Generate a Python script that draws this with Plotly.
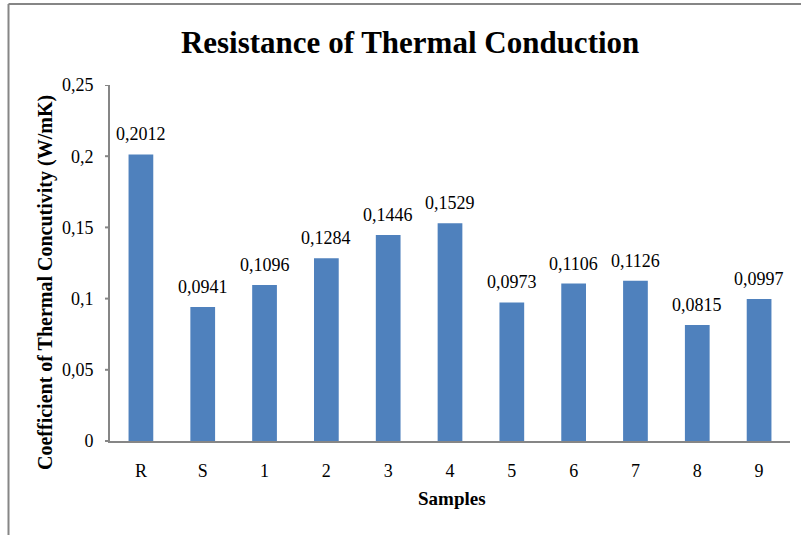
import plotly.graph_objects as go

samples = ["R", "S", "1", "2", "3", "4", "5", "6", "7", "8", "9"]
conductivity = [0.2012, 0.0941, 0.1096, 0.1284, 0.1446, 0.1529,
                0.0973, 0.1106, 0.1126, 0.0815, 0.0997]
y_ticks = [0, 0.05, 0.1, 0.15, 0.2, 0.25]
y_tick_text = ["0", "0,05", "0,1", "0,15", "0,2", "0,25"]

W, H = 801, 535
L, R, T, B = 110, 11, 85, 94
pw, ph = W - L - R, H - T - B

def px_x(x):
    return (x - L) / pw

def px_y(y):
    return (H - B - y) / ph

serif = "Liberation Serif, Times New Roman, serif"
axis_gray = "#868686"

fig = go.Figure(go.Bar(
    x=samples, y=conductivity,
    marker=dict(color="#4F81BD", line=dict(width=0)),
    width=0.4,
    cliponaxis=False,
))
fig.update_xaxes(type="category")

# value labels sitting above each bar (x given as category index)
value_labels = [
    dict(x=i, y=v, xref="x", yref="y", text=f"{v:.4f}".replace(".", ","),
         showarrow=False, xanchor="center", yanchor="bottom", yshift=8,
         font=dict(family=serif, size=18, color="#000"))
    for i, v in enumerate(conductivity)
]

# short visible tick marks on the value axis
tick_marks = [
    dict(type="line", xref="paper", yref="y",
         x0=px_x(105), x1=px_x(110), y0=t, y1=t,
         line=dict(color=axis_gray, width=2))
    for t in y_ticks
]

fig.update_layout(
    width=W, height=H,
    margin=dict(l=L, r=R, t=T, b=B),
    paper_bgcolor="white", plot_bgcolor="white",
    showlegend=False,
    bargap=0.6,
    font=dict(family=serif, color="#000"),
    title=dict(text="<b>Resistance of Thermal Conduction</b>",
               font=dict(family=serif, size=31, color="#000"),
               x=0.512, xanchor="center", y=1 - 42 / H, yanchor="middle",
               xref="container", yref="container"),
    xaxis=dict(showline=True, linecolor=axis_gray, linewidth=2,
               ticks="outside", ticklen=12, tickcolor="rgba(0,0,0,0)",
               showgrid=False,
               tickfont=dict(family=serif, size=18, color="#000")),
    yaxis=dict(range=[0, 0.25], tickvals=y_ticks, ticktext=y_tick_text,
               showline=True, linecolor=axis_gray, linewidth=2,
               ticks="outside", ticklen=11, tickcolor="rgba(0,0,0,0)",
               showgrid=False, zeroline=False,
               tickfont=dict(family=serif, size=18, color="#000")),
    annotations=value_labels + [
        dict(text="<b>Coefficient of Thermal Concutivity (W/mK)</b>",
             textangle=-90, xref="paper", yref="paper",
             x=px_x(45), y=px_y(283), showarrow=False,
             xanchor="center", yanchor="middle",
             font=dict(family=serif, size=20, color="#000")),
        dict(text="<b>Samples</b>", xref="paper", yref="paper",
             x=px_x(452), y=px_y(498), showarrow=False,
             xanchor="center", yanchor="middle",
             font=dict(family=serif, size=19, color="#000")),
    ],
    shapes=tick_marks + [
        dict(type="line", xref="paper", yref="paper",
             x0=px_x(8.5), x1=px_x(8.5), y0=px_y(4), y1=px_y(540),
             line=dict(color=axis_gray, width=2)),
        dict(type="line", xref="paper", yref="paper",
             x0=px_x(8.5), x1=px_x(805), y0=px_y(4), y1=px_y(4),
             line=dict(color=axis_gray, width=2)),
        dict(type="line", xref="paper", yref="paper",
             x0=px_x(105), x1=px_x(110), y0=0, y1=0,
             line=dict(color=axis_gray, width=2)),
    ],
)

fig.write_html("out.html")
